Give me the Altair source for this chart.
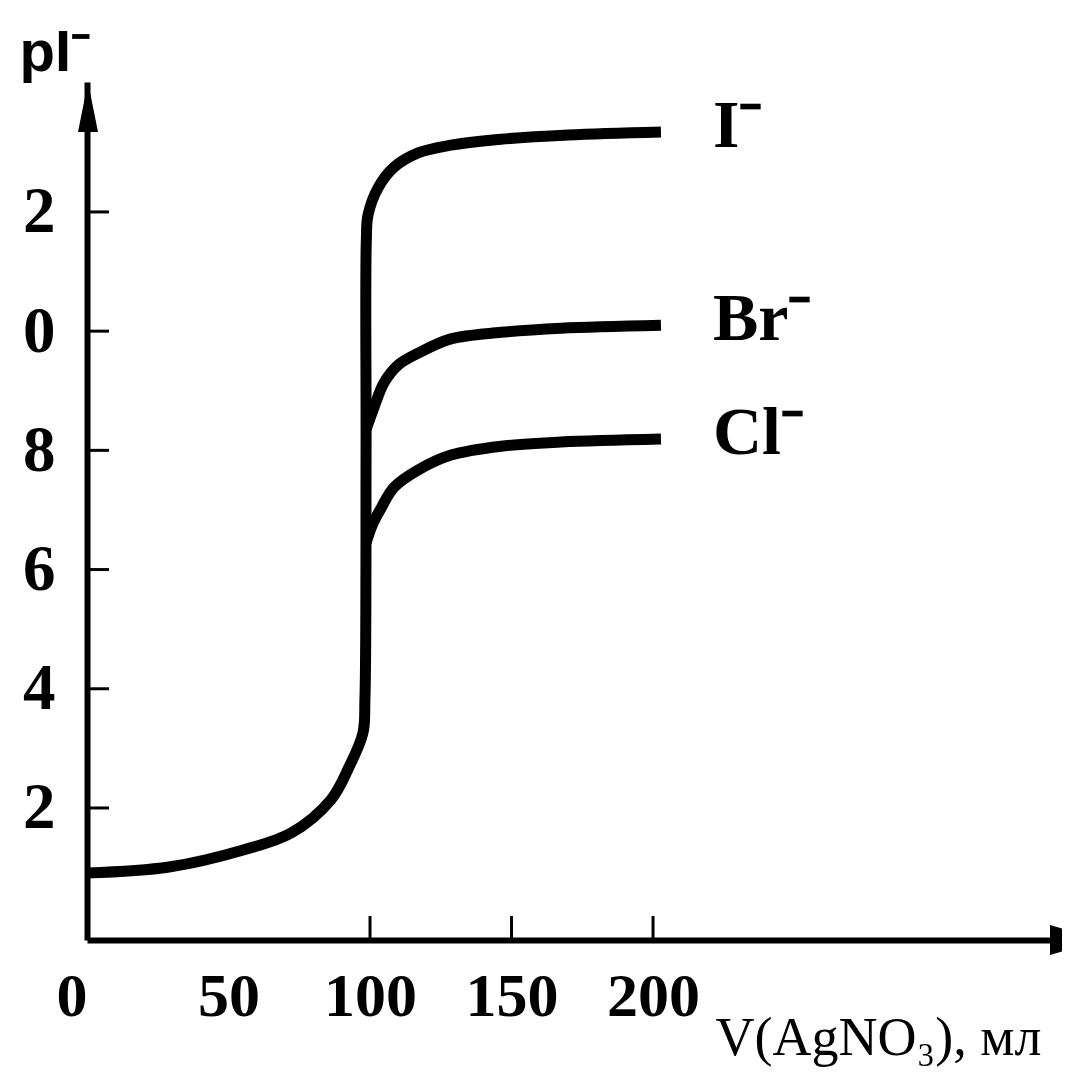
import altair as alt
import pandas as pd

# ---- data ----
# I⁻ curve (includes the common part before the equivalence point)
i_x = [0, 29.0, 55.5, 72.1, 86.2, 92.6, 97.5, 98.2, 98.6, 98.7, 99.3, 102.8, 108.5, 117.0, 128.6, 146.3, 170.0, 202.8]
i_y = [0.91, 1.01, 1.30, 1.58, 2.14, 2.69, 3.26, 3.82, 8.0, 11.53, 11.95, 12.40, 12.75, 12.99, 13.12, 13.22, 13.29, 13.34]
# Br⁻ branch
br_x = [98.6, 101.4, 104.9, 109.9, 117.0, 128.6, 146.3, 167.5, 202.8]
br_y = [8.35, 8.72, 9.13, 9.43, 9.63, 9.87, 9.98, 10.05, 10.10]
# Cl⁻ branch
cl_x = [98.6, 101.1, 103.9, 108.5, 117.0, 128.6, 146.3, 167.5, 202.8]
cl_y = [6.45, 6.78, 7.03, 7.38, 7.67, 7.92, 8.07, 8.14, 8.19]

series_names = ["I⁻", "Br⁻", "Cl⁻"]
x_tick_values = [0, 50, 100, 150, 200]
x_minor_ticks = [100, 150, 200]
y_tick_values = [2, 4, 6, 8, 10, 12]

X_DOMAIN = [0, 344.5]
Y_DOMAIN = [-0.215, 14.18]
W, H = 975, 858

rows = []
for name, xs, ys in zip(series_names, [i_x, br_x, cl_x], [i_y, br_y, cl_y]):
    for k, (a, b) in enumerate(zip(xs, ys)):
        rows.append({"series": name, "x": a, "y": b, "k": k})
df = pd.DataFrame(rows)
ends = pd.DataFrame({"series": series_names,
                     "x": [i_x[-1], br_x[-1], cl_x[-1]],
                     "y": [i_y[-1], br_y[-1], cl_y[-1]]})

xs = alt.Scale(domain=X_DOMAIN, nice=False, zero=False)
ys = alt.Scale(domain=Y_DOMAIN, nice=False, zero=False)

SERIF = "Liberation Serif, serif"
SANS = "Liberation Sans, sans-serif"

x_axis = alt.Axis(
    values=x_tick_values, ticks=False, grid=False,
    domainWidth=6, domainColor="#000",
    labelFont=SERIF, labelFontSize=62, labelFontWeight="bold", labelColor="#000",
    labelPadding=26, labelFlush=False, labelOverlap=False, labelBound=False,
    labelAlign=alt.condition("datum.value == 0", alt.value("right"), alt.value("center")),
    title="V(AgNO₃), мл", titleX=628, titleY=114, titleAlign="left",
    titleBaseline="alphabetic", titleFont=SERIF, titleFontSize=54,
    titleFontWeight="normal", titleColor="#000",
)
y_axis = alt.Axis(
    values=y_tick_values, labelExpr="'' + (datum.value % 10)",
    ticks=False, grid=False, domainWidth=6, domainColor="#000",
    labelFont=SERIF, labelFontSize=65, labelFontWeight="bold", labelColor="#000",
    labelPadding=32, labelFlush=False, labelOverlap=False, labelBound=False,
    title="pI⁻", titleAngle=0, titleX=-68, titleY=-12, titleAlign="left",
    titleBaseline="alphabetic", titleFont=SANS, titleFontSize=58,
    titleFontWeight="bold", titleColor="#000",
)

lines = alt.Chart(df).mark_line(
    color="#000", strokeWidth=11, interpolate="catmull-rom", strokeCap="butt",
    strokeJoin="round"
).encode(
    x=alt.X("x:Q", scale=xs, axis=x_axis),
    y=alt.Y("y:Q", scale=ys, axis=y_axis),
    detail="series:N",
    order="k:Q",
)

ytick_df = pd.DataFrame({"y": y_tick_values})
yticks = alt.Chart(ytick_df).mark_rule(color="#000", strokeWidth=3).encode(
    y=alt.Y("y:Q", scale=ys), x=alt.value(0), x2=alt.value(22)
)
xtick_df = pd.DataFrame({"x": x_minor_ticks})
xticks = alt.Chart(xtick_df).mark_rule(color="#000", strokeWidth=3).encode(
    x=alt.X("x:Q", scale=xs), y=alt.value(H), y2=alt.value(H - 24)
)

labels = alt.Chart(ends).mark_text(
    align="left", baseline="middle", dx=52, dy=-5,
    font=SERIF, fontSize=68, fontWeight="bold", color="#000"
).encode(
    x=alt.X("x:Q", scale=xs), y=alt.Y("y:Q", scale=ys), text="series:N"
)

up_arrow = alt.Chart(pd.DataFrame({"a": [0]})).mark_point(
    shape="M0,-1L0.4,1L-0.4,1Z", size=2500, filled=True, color="#000", opacity=1, strokeWidth=0
).encode(x=alt.value(1), y=alt.value(25))
right_arrow = alt.Chart(pd.DataFrame({"a": [0]})).mark_point(
    shape="M1,0L-1,-0.6L-1,0.6Z", size=2500, filled=True, color="#000", opacity=1, strokeWidth=0
).encode(x=alt.value(988), y=alt.value(H))

chart = alt.layer(lines, yticks, xticks, labels, up_arrow, right_arrow).properties(
    width=W, height=H,
    padding={"left": 79, "top": 74, "right": 0, "bottom": 128},
    autosize=alt.AutoSizeParams(type="none"),
    background="white",
).configure_view(strokeWidth=0)

chart.save("out.html", embed_options={"renderer": "svg", "actions": False})
